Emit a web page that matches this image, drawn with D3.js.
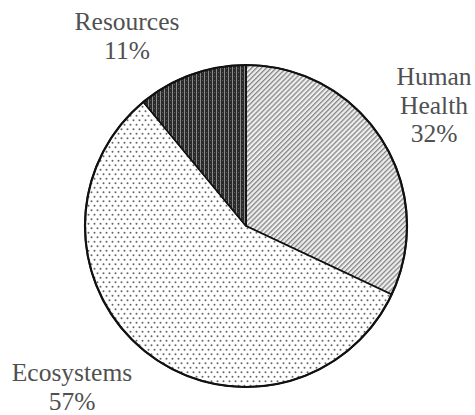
<!DOCTYPE html>
<html>
<head>
<meta charset="utf-8">
<script src="https://cdn.jsdelivr.net/npm/d3@7"></script>
<style>
  html, body { margin: 0; padding: 0; background: #fff; }
  svg { display: block; }
  .lbl { font-family: "Liberation Serif", serif; font-size: 25.5px; fill: #505050; }
</style>
</head>
<body>
<svg id="chart" width="475" height="415"></svg>
<script>
// Share of damage by area of protection
const categories = ["Human Health", "Ecosystems", "Resources"];
const shares = [32, 57, 11];
const labelLines = [["Human", "Health", "32%"], ["Ecosystems", "57%"], ["Resources", "11%"]];
const fills = ["url(#hatch)", "url(#dots)", "url(#stripes)"];

const svg = d3.select("#chart");
const cx = 246, cy = 226, radius = 161;

// Fill patterns
const defs = svg.append("defs");

const hatch = defs.append("pattern").attr("id", "hatch")
  .attr("patternUnits", "userSpaceOnUse").attr("width", 3.5).attr("height", 3.5)
  .attr("patternTransform", "rotate(45)");
hatch.append("rect").attr("width", 3.5).attr("height", 3.5).attr("fill", "#efefef");
hatch.append("rect").attr("x", 0).attr("width", 1.3).attr("height", 3.5).attr("fill", "#858585");

const dots = defs.append("pattern").attr("id", "dots")
  .attr("patternUnits", "userSpaceOnUse").attr("width", 6).attr("height", 9);
dots.append("rect").attr("width", 6).attr("height", 9).attr("fill", "#fff");
dots.append("circle").attr("cx", 1.5).attr("cy", 2.2).attr("r", 1).attr("fill", "#666");
dots.append("circle").attr("cx", 4.5).attr("cy", 6.7).attr("r", 1).attr("fill", "#666");

const stripes = defs.append("pattern").attr("id", "stripes")
  .attr("patternUnits", "userSpaceOnUse").attr("width", 4).attr("height", 4);
stripes.append("rect").attr("width", 4).attr("height", 4).attr("fill", "#2a2a2a");
stripes.append("rect").attr("x", 2).attr("width", 1).attr("height", 4).attr("fill", "#8a8a8a");
stripes.append("rect").attr("x", 0).attr("y", 2).attr("width", 1).attr("height", 1).attr("fill", "#5a5a5a");

const pie = d3.pie().sort(null).value(d => d)(shares);
const arc = d3.arc().innerRadius(0).outerRadius(radius);

const g = svg.append("g").attr("transform", `translate(${cx},${cy})`);
g.selectAll("path.slice").data(pie).join("path")
  .attr("class", "slice")
  .attr("d", arc)
  .attr("fill", (d, i) => fills[i])
  .attr("stroke", "#111")
  .attr("stroke-width", 1.6)
  .attr("stroke-linejoin", "round");

g.append("circle").attr("r", radius).attr("fill", "none")
  .attr("stroke", "#111").attr("stroke-width", 2.2);

// Category labels around the pie (first-line baseline relative to pie centre)
const labelAnchors = [[188, -141], [-174, 155], [-119, -196]];
const lineGap = 28.5;
labelLines.forEach((lines, i) => {
  const t = g.append("text").attr("class", "lbl").attr("text-anchor", "middle")
    .attr("transform", `translate(${labelAnchors[i][0]},${labelAnchors[i][1]})`);
  lines.forEach((s, k) => {
    t.append("tspan").attr("x", 0).attr("y", k * lineGap).text(s);
  });
});
</script>
</body>
</html>
